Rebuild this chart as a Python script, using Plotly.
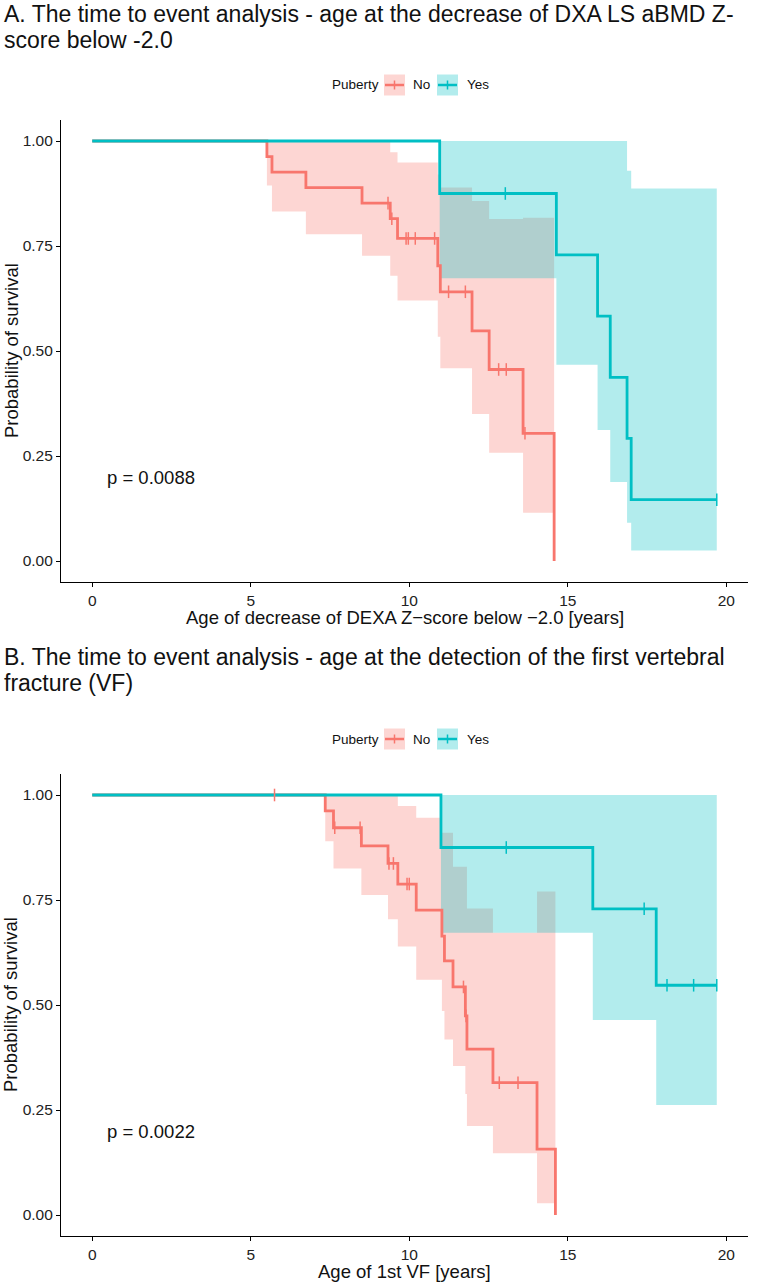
import plotly.graph_objects as go
import numpy as np

W, H = 762, 1284
RED = "#F8766D"
TEAL = "#00BFC4"
RED_F = "rgba(248,118,109,0.3)"
TEAL_F = "rgba(0,191,196,0.3)"
FONT = "Liberation Sans, Arial, Helvetica, sans-serif"

# ---------------- Panel A data ----------------
A_no_t = [0, 5.51, 5.67, 6.74, 8.51, 9.40, 9.63, 10.90, 10.98, 11.98, 12.52, 13.59, 14.57]
A_no_s = [1.0, 0.963, 0.926, 0.889, 0.852, 0.815, 0.768, 0.703, 0.641, 0.548, 0.456, 0.304, 0.0]
A_no_ci_t = [5.51, 5.67, 6.74, 8.51, 9.40, 9.63, 10.90, 10.98, 11.98, 12.52, 13.59, 14.57]
A_no_hi = [1.0, 1.0, 1.0, 1.0, 0.973, 0.949, 0.92, 0.889, 0.857, 0.814, 0.817, 0.817]
A_no_lo = [0.894, 0.832, 0.778, 0.727, 0.679, 0.620, 0.534, 0.459, 0.350, 0.258, 0.115, 0.115]
A_no_cens = [9.33, 9.45, 9.90, 9.97, 10.19, 10.80, 11.24, 11.77, 12.82, 13.06, 13.65]

A_yes_t = [0, 10.96, 14.64, 15.94, 16.34, 16.87, 17.00, 19.70]
A_yes_s = [1.0, 0.875, 0.729, 0.583, 0.437, 0.292, 0.146, 0.146]
A_yes_ci_t = [10.96, 14.64, 15.94, 16.34, 16.87, 17.00, 19.70]
A_yes_hi = [1.0, 1.0, 1.0, 1.0, 0.929, 0.887, 0.887]
A_yes_lo = [0.673, 0.467, 0.312, 0.188, 0.091, 0.025, 0.025]
A_yes_cens = [13.03, 19.70]

A_title = ["A. The time to event analysis - age at the decrease of DXA LS aBMD Z-",
           "score below -2.0"]
A_xlabel = "Age of decrease of DEXA Z\u2212score below \u22122.0 [years]"
A_pval = "p = 0.0088"

# ---------------- Panel B data ----------------
B_no_t = [0, 7.35, 7.61, 8.49, 9.33, 9.64, 10.22, 11.03, 11.11, 11.38, 11.77, 11.82, 12.64, 14.03, 14.61]
B_no_s = [1.0, 0.962, 0.922, 0.879, 0.837, 0.788, 0.726, 0.664, 0.605, 0.543, 0.474, 0.395, 0.315, 0.157, 0.0]
B_no_ci_t = [7.35, 7.61, 8.49, 9.33, 9.64, 10.22, 11.03, 11.11, 11.38, 11.77, 11.82, 12.64, 14.03, 14.61]
B_no_hi = [1.0, 1.0, 1.0, 1.0, 0.974, 0.946, 0.910, 0.910, 0.829, 0.829, 0.730, 0.672, 0.770, 0.770]
B_no_lo = [0.890, 0.825, 0.762, 0.704, 0.639, 0.560, 0.486, 0.418, 0.355, 0.288, 0.212, 0.147, 0.028, 0.028]
B_no_cens = [5.75, 7.65, 8.45, 9.36, 9.50, 9.93, 10.00, 11.71, 11.79, 12.84, 13.43]

B_yes_t = [0, 11.00, 15.79, 17.79, 19.70]
B_yes_s = [1.0, 0.875, 0.729, 0.547, 0.547]
B_yes_ci_t = [11.00, 15.79, 17.79, 19.70]
B_yes_hi = [1.0, 1.0, 1.0, 1.0]
B_yes_lo = [0.672, 0.464, 0.262, 0.262]
B_yes_cens = [13.06, 17.41, 18.13, 18.97, 19.70]

B_title = ["B. The time to event analysis - age at the detection of the first vertebral",
           "fracture (VF)"]
B_xlabel = "Age of 1st VF [years]"
B_pval = "p = 0.0022"

x_ticks = [0, 5, 10, 15, 20]
y_ticks = [0, 0.25, 0.5, 0.75, 1.0]
groups = ["No", "Yes"]
legend_title = "Puberty"
y_label = "Probability of survival"


def px(x):
    return x / W


def py(y):
    return 1 - y / H


def surv_at(times, surv, t):
    i = int(np.searchsorted(times, t, side="right")) - 1
    return surv[i]


fig = go.Figure()

panels = [
    dict(xa="x", ya="y", no=(A_no_t, A_no_s, A_no_ci_t, A_no_hi, A_no_lo, A_no_cens),
         yes=(A_yes_t, A_yes_s, A_yes_ci_t, A_yes_hi, A_yes_lo, A_yes_cens),
         top=120, title=A_title, title_y=14, xlabel=A_xlabel, pval=A_pval, off=0),
    dict(xa="x2", ya="y2", no=(B_no_t, B_no_s, B_no_ci_t, B_no_hi, B_no_lo, B_no_cens),
         yes=(B_yes_t, B_yes_s, B_yes_ci_t, B_yes_hi, B_yes_lo, B_yes_cens),
         top=774, title=B_title, title_y=657, xlabel=B_xlabel, pval=B_pval, off=654),
]

annotations = []
shapes = []

for p in panels:
    xa, ya = p["xa"], p["ya"]
    # CI ribbons
    for data, fc in [(p["no"], RED_F), (p["yes"], TEAL_F)]:
        t, s, ct, hi, lo, cens = data
        fig.add_trace(go.Scatter(x=ct, y=hi, mode="lines", line=dict(width=0, shape="hv"),
                                 xaxis=xa, yaxis=ya, showlegend=False, hoverinfo="skip"))
        fig.add_trace(go.Scatter(x=ct, y=lo, mode="lines", line=dict(width=0, shape="hv"),
                                 fill="tonexty", fillcolor=fc,
                                 xaxis=xa, yaxis=ya, showlegend=False, hoverinfo="skip"))
    # survival curves
    for data, c in [(p["no"], RED), (p["yes"], TEAL)]:
        t, s, ct, hi, lo, cens = data
        fig.add_trace(go.Scatter(x=t, y=s, mode="lines", line=dict(color=c, width=2.8, shape="hv"),
                                 xaxis=xa, yaxis=ya, showlegend=False))
    # censor marks
    for data, c in [(p["no"], RED), (p["yes"], TEAL)]:
        t, s, ct, hi, lo, cens = data
        cy = [surv_at(t, s, v) for v in cens]
        fig.add_trace(go.Scatter(x=cens, y=cy, mode="markers",
                                 marker=dict(symbol="line-ns", size=9, color=c,
                                             line=dict(color=c, width=1.5)),
                                 xaxis=xa, yaxis=ya, showlegend=False))

    off = p["off"]
    # title lines
    for i, line in enumerate(p["title"]):
        annotations.append(dict(text=line, xref="paper", yref="paper", x=px(2), y=py(p["title_y"] + 26 * i),
                                xanchor="left", yanchor="middle", showarrow=False,
                                font=dict(family=FONT, size=23, color="#111")))
    # legend
    ly = 85 + off
    annotations.append(dict(text=legend_title, xref="paper", yref="paper", x=px(330), y=py(ly),
                            xanchor="left", yanchor="middle", showarrow=False,
                            font=dict(family=FONT, size=13.5, color="#111")))
    for g, x0, tx, c, fc in [(groups[0], 384, 411, RED, RED_F), (groups[1], 437, 465, TEAL, TEAL_F)]:
        x1 = x0 + 21
        shapes.append(dict(type="rect", xref="paper", yref="paper", x0=px(x0), x1=px(x1),
                           y0=py(ly + 10.5), y1=py(ly - 10.5), fillcolor=fc, line=dict(width=0)))
        shapes.append(dict(type="line", xref="paper", yref="paper", x0=px(x0 + 1), x1=px(x1 - 1),
                           y0=py(ly), y1=py(ly), line=dict(color=c, width=2.5)))
        shapes.append(dict(type="line", xref="paper", yref="paper", x0=px((x0 + x1) / 2), x1=px((x0 + x1) / 2),
                           y0=py(ly - 4.5), y1=py(ly + 4.5), line=dict(color=c, width=1.5)))
        annotations.append(dict(text=g, xref="paper", yref="paper", x=px(tx), y=py(ly),
                                xanchor="left", yanchor="middle", showarrow=False,
                                font=dict(family=FONT, size=13.5, color="#111")))
    # axis titles
    annotations.append(dict(text=y_label, xref="paper", yref="paper", x=px(11), y=py(p["top"] + 231),
                            xanchor="center", yanchor="middle", textangle=-90, showarrow=False,
                            font=dict(family=FONT, size=18.5, color="#111")))
    annotations.append(dict(text=p["xlabel"], xref="paper", yref="paper", x=px(404.5), y=py(617 + off),
                            xanchor="center", yanchor="middle", showarrow=False,
                            font=dict(family=FONT, size=18.5, color="#111")))
    # p-value
    annotations.append(dict(text=p["pval"], xref=xa, yref=ya, x=0.41, y=0.2,
                            xanchor="left", yanchor="middle", showarrow=False,
                            font=dict(family=FONT, size=18.5, color="#111")))

axis_common = dict(showline=True, linecolor="black", linewidth=1.1, ticks="outside", ticklen=4,
                   tickwidth=1.1, tickcolor="black", showgrid=False, zeroline=False,
                   tickfont=dict(family=FONT, size=15.5, color="#222"))

xdom = [px(61), px(748)]
fig.update_layout(
    width=W, height=H, margin=dict(l=0, r=0, t=0, b=0),
    paper_bgcolor="white", plot_bgcolor="white", showlegend=False,
    font=dict(family=FONT),
    xaxis=dict(domain=xdom, range=[-0.985, 20.685], tickvals=x_ticks, anchor="y", **axis_common),
    yaxis=dict(domain=[py(582), py(120)], range=[-0.05, 1.05], tickvals=y_ticks, tickformat=".2f",
               anchor="x", **axis_common),
    xaxis2=dict(domain=xdom, range=[-0.985, 20.685], tickvals=x_ticks, anchor="y2", **axis_common),
    yaxis2=dict(domain=[py(1236), py(774)], range=[-0.05, 1.05], tickvals=y_ticks, tickformat=".2f",
                anchor="x2", **axis_common),
    annotations=annotations, shapes=shapes,
)

fig.write_html("out.html")
